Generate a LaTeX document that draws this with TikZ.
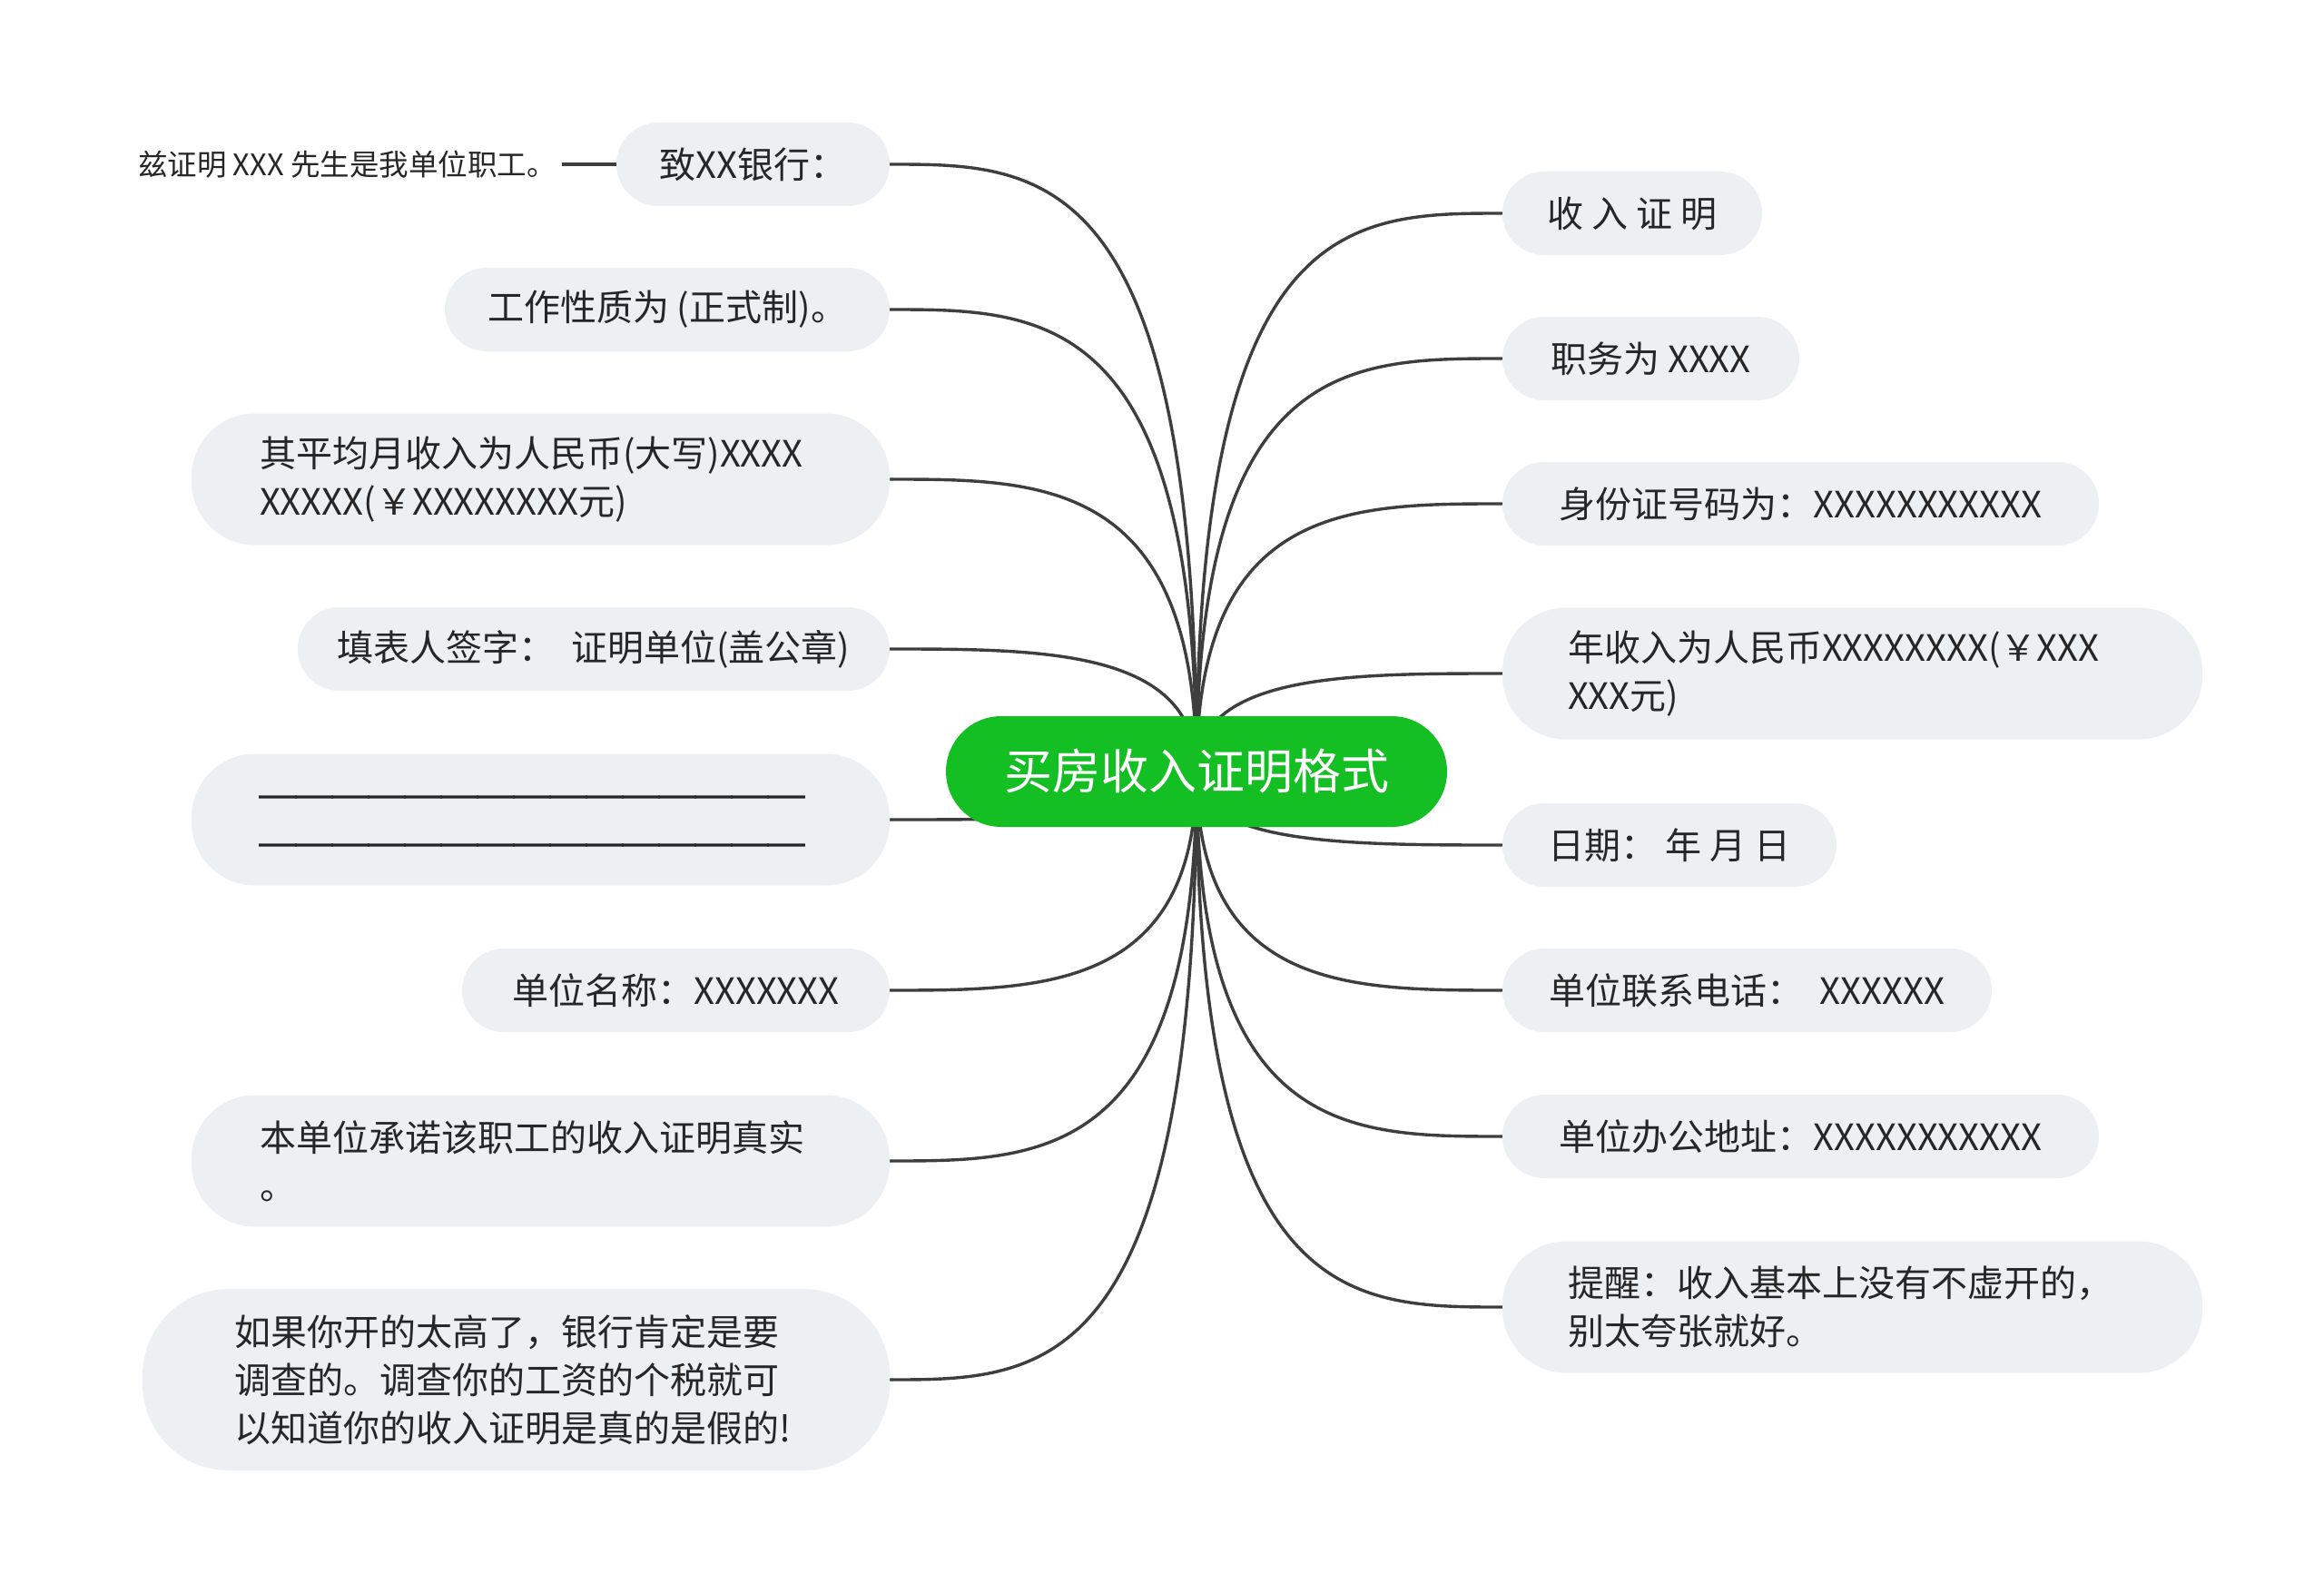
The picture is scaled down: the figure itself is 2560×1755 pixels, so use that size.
\documentclass[tikz,border=0pt]{standalone}
\usepackage{fontspec}
\setmainfont{Noto Sans CJK SC}
\newfontfamily\heavyline[FakeBold=4]{Noto Sans CJK SC}
\usetikzlibrary{calc,backgrounds}
\definecolor{boxgray}{RGB}{237,240,243}
\definecolor{maingreen}{RGB}{19,191,34}
\definecolor{linegray}{RGB}{62,62,62}
\definecolor{txt}{RGB}{38,38,38}
\tikzset{
  topic/.style={fill=boxgray, text=txt, font=\fontsize{40}{53}\selectfont, align=left,
    inner sep=0pt, minimum height=92pt, rounded corners=46pt},
  tallbox/.style={minimum height=145pt, rounded corners=70pt},
  hugebox/.style={minimum height=200pt, rounded corners=95pt},
  centre/.style={fill=maingreen, text=white, font=\fontsize{53}{60}\selectfont,
    inner sep=0pt, minimum width=552pt, minimum height=122pt, rounded corners=61pt},
  note/.style={text=txt, font=\fontsize{32.5}{38}\selectfont, inner sep=0pt},
  link/.style={draw=linegray, line width=3.4pt},
}
\begin{document}
\begin{tikzpicture}[x=1pt,y=-1pt]
\useasboundingbox (0,0) rectangle (2560,1755);
% central topic
\node[centre] (c) at (1318,850) {买房收入证明格式};
% left side
\node[topic, minimum width=301pt] (l1) at (829.5,181) {致XX银行：};
\node[topic, minimum width=490pt] (l2) at (735,341) {工作性质为 (正式制)。};
\node[topic, tallbox, minimum width=769pt, text width=619pt] (l3) at (595.5,528) {其平均月收入为人民币(大写)XXXX\\XXXXX(￥XXXXXXXX元)};
\node[topic, minimum width=652pt] (l4) at (654,715) {填表人签字：~~证明单位(盖公章)};
\node[topic, tallbox, minimum width=769pt, text width=619pt] (l5) at (595.5,903) {\heavyline ＿＿＿＿＿＿＿＿＿＿＿＿＿＿＿\\＿＿＿＿＿＿＿＿＿＿＿＿＿＿＿};
\node[topic, minimum width=471pt] (l6) at (744.5,1091) {单位名称：XXXXXXX};
\node[topic, tallbox, minimum width=769pt, text width=619pt] (l7) at (595.5,1279) {本单位承诺该职工的收入证明真实\\。};
\node[topic, hugebox, minimum width=823pt, text width=621pt] (l8) at (568.5,1520) {如果你开的太高了，银行肯定是要\\调查的。调查你的工资的个税就可\\以知道你的收入证明是真的是假的!};
% right side
\node[topic, minimum width=286pt] (r1) at (1798,235) {收 入 证 明};
\node[topic, minimum width=327pt] (r2) at (1818.5,395) {职务为 XXXX};
\node[topic, minimum width=657pt] (r3) at (1983.5,555) {身份证号码为：XXXXXXXXXXX};
\node[topic, tallbox, minimum width=771pt, text width=627pt] (r4) at (2040.5,742) {年收入为人民币XXXXXXXX(￥XXX\\XXX元)};
\node[topic, minimum width=368pt] (r5) at (1839,931) {日期：~年 月 日};
\node[topic, minimum width=539pt] (r6) at (1924.5,1091) {单位联系电话：~~XXXXXX};
\node[topic, minimum width=657pt] (r7) at (1983.5,1252) {单位办公地址：XXXXXXXXXXX};
\node[topic, tallbox, minimum width=771pt, text width=627pt] (r8) at (2040.5,1440) {提醒：收入基本上没有不虚开的，\\别太夸张就好。};
% detail attached to l1
\node[note, anchor=west] (zz) at (152,181) {兹证明 XXX 先生是我单位职工。};
\draw[link] ([xshift=6pt]zz.east) -- (l1.west);
\begin{scope}[on background layer]
  \fill[white] (0,0) rectangle (2560,1755);
  \foreach \n in {l1,l2,l3,l4,l5,l6,l7,l8}
    \draw[link] (\n.east) .. controls ($(\n.east)!0.5!(\n.east -| c.center)$) and (\n.east -| c.center) .. (c.center);
  \foreach \n in {r1,r2,r3,r4,r5,r6,r7,r8}
    \draw[link] (\n.west) .. controls ($(\n.west)!0.5!(\n.west -| c.center)$) and (\n.west -| c.center) .. (c.center);
\end{scope}
\end{tikzpicture}
\end{document}
